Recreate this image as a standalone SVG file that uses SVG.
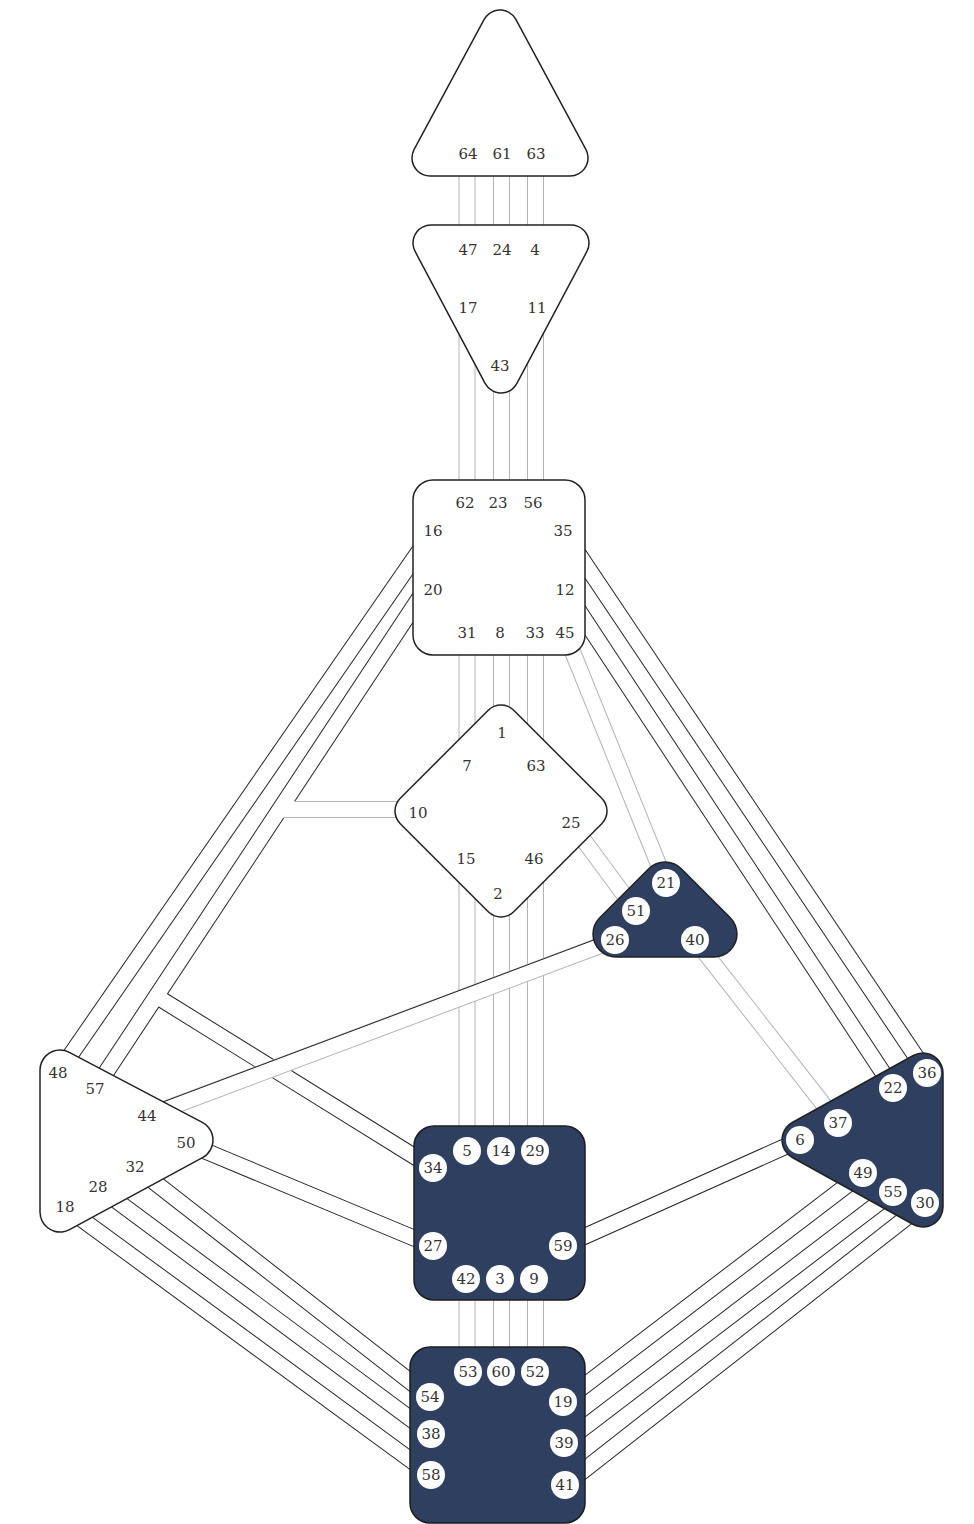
<svg xmlns="http://www.w3.org/2000/svg" width="974" height="1524" viewBox="0 0 974 1524">
<defs>
<style>
.od{stroke:#262626;stroke-width:17;fill:none}
.og{stroke:#b4b4b4;stroke-width:17;fill:none}
.w{stroke:#fff;stroke-width:15;fill:none}
.bo{fill:#222;stroke:#222;stroke-linejoin:round}
.wf{fill:#fff;stroke:#fff;stroke-linejoin:round}
.nf{fill:#2e3f5f;stroke:#2e3f5f;stroke-linejoin:round}
.rw{fill:#fff;stroke:#222;stroke-width:1.5}
.rn{fill:#2e3f5f;stroke:#1c1c1c;stroke-width:1.5}
.gc{fill:#fff}
text{font-family:"DejaVu Serif","Liberation Serif",serif;font-size:15px;fill:#333;text-anchor:middle}
</style>
<path id="v1" d="M467,154V250"/>
<path id="v2" d="M501.5,154V250"/>
<path id="v3" d="M535.5,154V250"/>
<path id="v4" d="M467,308V503"/>
<path id="v5" d="M501.5,366V503"/>
<path id="v6" d="M535.5,308V503"/>
<path id="v7" d="M467,633V766"/>
<path id="v8" d="M501.5,633V733"/>
<path id="v9" d="M535.5,633V766"/>
<path id="v10" d="M467,859V1151"/>
<path id="v11" d="M501.5,894V1151"/>
<path id="v12" d="M535.5,859V1151"/>
<path id="v13" d="M467,1279V1372"/>
<path id="v14" d="M501.5,1279V1372"/>
<path id="v15" d="M535.5,1279V1372"/>
<path id="c16" d="M433,531L58,1073"/>
<path id="c20" d="M428,585L95,1089"/>
<path id="c34" d="M433,1168L156,996"/>
<path id="c10" d="M418,809.5H279"/>
<path id="c44" d="M147,1116L615,940"/>
<path id="c50" d="M186,1143L433,1246"/>
<path id="c32" d="M135,1167L430,1397"/>
<path id="c28" d="M98,1187L431,1434"/>
<path id="c18" d="M65,1207L431,1475"/>
<path id="c35" d="M563,531L927,1073"/>
<path id="c12" d="M565,590L893,1088"/>
<path id="c45" d="M565,633L666,883"/>
<path id="c25" d="M571,823L636,911"/>
<path id="c40" d="M695,940L838,1123"/>
<path id="c59" d="M563,1246L800,1140"/>
<path id="c49" d="M863,1173L563,1402"/>
<path id="c55" d="M893,1192L564,1443"/>
<path id="c30" d="M925,1203L565,1485"/>
</defs>
<rect width="974" height="1524" fill="#fff"/>
<g id="connectors">
<use href="#v1" class="og"/><use href="#v1" class="w"/>
<use href="#v2" class="og"/><use href="#v2" class="w"/>
<use href="#v3" class="og"/><use href="#v3" class="w"/>
<use href="#v4" class="og"/><use href="#v4" class="w"/>
<use href="#v5" class="og"/><use href="#v5" class="w"/>
<use href="#v6" class="og"/><use href="#v6" class="w"/>
<use href="#v7" class="og"/><use href="#v7" class="w"/>
<use href="#v8" class="og"/><use href="#v8" class="w"/>
<use href="#v9" class="og"/><use href="#v9" class="w"/>
<use href="#v10" class="og"/><use href="#v10" class="w"/>
<use href="#v11" class="og"/><use href="#v11" class="w"/>
<use href="#v12" class="og"/><use href="#v12" class="w"/>
<use href="#v13" class="og"/><use href="#v13" class="w"/>
<use href="#v14" class="og"/><use href="#v14" class="w"/>
<use href="#v15" class="og"/><use href="#v15" class="w"/>
<use href="#c16" class="od"/><use href="#c16" class="w"/>
<use href="#c20" class="od"/><use href="#c34" class="od"/><use href="#c10" class="og"/>
<use href="#c20" class="w"/><use href="#c34" class="w"/><use href="#c10" class="w"/>
<use href="#c44" class="og"/><use href="#c44" class="w"/>
<path d="M144.4,1109L612.4,933" stroke="#262626" stroke-width="1" fill="none"/>
<use href="#c50" class="od"/><use href="#c50" class="w"/>
<use href="#c32" class="od"/><use href="#c32" class="w"/>
<use href="#c28" class="od"/><use href="#c28" class="w"/>
<use href="#c18" class="od"/><use href="#c18" class="w"/>
<use href="#c35" class="od"/><use href="#c35" class="w"/>
<use href="#c12" class="od"/><use href="#c12" class="w"/>
<use href="#c45" class="og"/><use href="#c45" class="w"/>
<use href="#c25" class="og"/><use href="#c25" class="w"/>
<use href="#c40" class="og"/><use href="#c40" class="w"/>
<use href="#c59" class="od"/><use href="#c59" class="w"/>
<use href="#c49" class="od"/><use href="#c49" class="w"/>
<use href="#c55" class="od"/><use href="#c55" class="w"/>
<use href="#c30" class="od"/><use href="#c30" class="w"/>
</g>
<g id="head">
<path class="bo" stroke-width="37.5" d="M500,28L570,158L430,158Z"/>
<path class="wf" stroke-width="34.5" d="M500,28L570,158L430,158Z"/>
<text x="468" y="159">64</text><text x="502" y="159">61</text><text x="536" y="159">63</text>
</g>
<g id="ajna">
<path class="bo" stroke-width="37.5" d="M431,243L571,243L501,375Z"/>
<path class="wf" stroke-width="34.5" d="M431,243L571,243L501,375Z"/>
<text x="468" y="255">47</text><text x="502" y="255">24</text><text x="535" y="255">4</text>
<text x="468" y="313">17</text><text x="537" y="313">11</text>
<text x="500" y="371">43</text>
</g>
<g id="throat">
<rect class="rw" x="413" y="480" width="172" height="175" rx="20"/>
<text x="465" y="508">62</text><text x="498" y="508">23</text><text x="533" y="508">56</text>
<text x="433" y="536">16</text><text x="563" y="536">35</text>
<text x="433" y="595">20</text><text x="565" y="595">12</text>
<text x="467" y="638">31</text><text x="500" y="638">8</text><text x="535" y="638">33</text><text x="565" y="638">45</text>
</g>
<g id="g-center">
<path class="bo" stroke-width="37.5" d="M501,723L589,811L501,899L413,811Z"/>
<path class="wf" stroke-width="34.5" d="M501,723L589,811L501,899L413,811Z"/>
<text x="502" y="738">1</text>
<text x="467" y="771">7</text><text x="536" y="771">63</text>
<text x="418" y="818">10</text><text x="571" y="828">25</text>
<text x="466" y="864">15</text><text x="534" y="864">46</text>
<text x="498" y="899">2</text>
</g>
<g id="heart">
<path class="bo" stroke-width="47.5" d="M665,885L714,934L616,934Z"/>
<path class="nf" stroke-width="44.5" d="M665,885L714,934L616,934Z"/>
<circle class="gc" cx="666" cy="883" r="14"/><text x="666" y="888">21</text>
<circle class="gc" cx="636" cy="911" r="14"/><text x="636" y="916">51</text>
<circle class="gc" cx="615" cy="940" r="14"/><text x="615" y="945">26</text>
<circle class="gc" cx="695" cy="940" r="14"/><text x="695" y="945">40</text>
</g>
<g id="spleen">
<path class="bo" stroke-width="41.5" d="M60,1070L193,1140L60,1212Z"/>
<path class="wf" stroke-width="38.5" d="M60,1070L193,1140L60,1212Z"/>
<text x="58" y="1078">48</text><text x="95" y="1094">57</text><text x="147" y="1121">44</text>
<text x="186" y="1148">50</text><text x="135" y="1172">32</text><text x="98" y="1192">28</text><text x="65" y="1212">18</text>
</g>
<g id="solar-plexus">
<path class="bo" stroke-width="41.5" d="M923,1073L802,1140L923,1207Z"/>
<path class="nf" stroke-width="38.5" d="M923,1073L802,1140L923,1207Z"/>
<circle class="gc" cx="927" cy="1073" r="14"/><text x="927" y="1078">36</text>
<circle class="gc" cx="893" cy="1088" r="14"/><text x="893" y="1093">22</text>
<circle class="gc" cx="838" cy="1123" r="14"/><text x="838" y="1128">37</text>
<circle class="gc" cx="800" cy="1140" r="14"/><text x="800" y="1145">6</text>
<circle class="gc" cx="863" cy="1173" r="14"/><text x="863" y="1178">49</text>
<circle class="gc" cx="893" cy="1192" r="14"/><text x="893" y="1197">55</text>
<circle class="gc" cx="925" cy="1203" r="14"/><text x="925" y="1208">30</text>
</g>
<g id="sacral">
<rect class="rn" x="414" y="1126" width="171" height="174" rx="20"/>
<circle class="gc" cx="467" cy="1151" r="14"/><text x="467" y="1156">5</text>
<circle class="gc" cx="501" cy="1151" r="14"/><text x="501" y="1156">14</text>
<circle class="gc" cx="535" cy="1151" r="14"/><text x="535" y="1156">29</text>
<circle class="gc" cx="433" cy="1168" r="14"/><text x="433" y="1173">34</text>
<circle class="gc" cx="433" cy="1246" r="14"/><text x="433" y="1251">27</text>
<circle class="gc" cx="563" cy="1246" r="14"/><text x="563" y="1251">59</text>
<circle class="gc" cx="466" cy="1279" r="14"/><text x="466" y="1284">42</text>
<circle class="gc" cx="500" cy="1279" r="14"/><text x="500" y="1284">3</text>
<circle class="gc" cx="534" cy="1279" r="14"/><text x="534" y="1284">9</text>
</g>
<g id="root">
<rect class="rn" x="410" y="1347" width="175" height="176" rx="20"/>
<circle class="gc" cx="468" cy="1372" r="14"/><text x="468" y="1377">53</text>
<circle class="gc" cx="501" cy="1372" r="14"/><text x="501" y="1377">60</text>
<circle class="gc" cx="535" cy="1372" r="14"/><text x="535" y="1377">52</text>
<circle class="gc" cx="430" cy="1397" r="14"/><text x="430" y="1402">54</text>
<circle class="gc" cx="431" cy="1434" r="14"/><text x="431" y="1439">38</text>
<circle class="gc" cx="431" cy="1475" r="14"/><text x="431" y="1480">58</text>
<circle class="gc" cx="563" cy="1402" r="14"/><text x="563" y="1407">19</text>
<circle class="gc" cx="564" cy="1443" r="14"/><text x="564" y="1448">39</text>
<circle class="gc" cx="565" cy="1485" r="14"/><text x="565" y="1490">41</text>
</g>
</svg>
